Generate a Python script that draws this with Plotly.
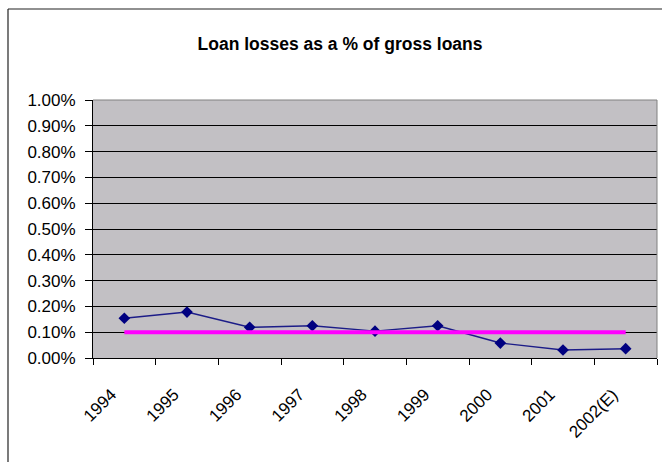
import plotly.graph_objects as go

# Chart data
years = ["1994", "1995", "1996", "1997", "1998", "1999", "2000", "2001", "2002(E)"]
loan_loss_pct = [0.00154, 0.00178, 0.00119, 0.00125, 0.00104, 0.00125, 0.00058, 0.00031, 0.00036]
benchmark_pct = [0.0010] * len(years)
y_ticks = [0.000, 0.001, 0.002, 0.003, 0.004, 0.005, 0.006, 0.007, 0.008, 0.009, 0.010]

FONT = "Arial, 'Liberation Sans', sans-serif"

fig = go.Figure()

fig.add_trace(go.Scatter(
    x=years, y=loan_loss_pct, mode="lines+markers",
    line=dict(color="#1c1c88", width=1.4),
    marker=dict(symbol="diamond", size=9, color="#000080"),
    showlegend=False, hoverinfo="x+y",
))

fig.add_trace(go.Scatter(
    x=years, y=benchmark_pct, mode="lines",
    line=dict(color="#FF00FF", width=4),
    showlegend=False, hoverinfo="x+y",
))

W, H = 662, 462
ml, mr, mt, mb = 93, 5, 100, 104
pw, ph = W - ml - mr, H - mt - mb

# Outer chart frame (left and top edges visible in the canvas)
fx0 = (8 - ml) / pw
fy1 = (H - mb - 9) / ph
fig.add_shape(type="line", xref="paper", yref="paper", x0=fx0, x1=fx0, y0=fy1, y1=-1.0,
              line=dict(color="#222222", width=1.2))
fig.add_shape(type="line", xref="paper", yref="paper", x0=fx0, x1=1.5, y0=fy1, y1=fy1,
              line=dict(color="#222222", width=1.2))

fig.update_layout(
    width=W, height=H,
    margin=dict(l=ml, r=mr, t=mt, b=mb),
    paper_bgcolor="white",
    plot_bgcolor="#C2C0C4",
    font=dict(family=FONT, size=17, color="#000000"),
    title=dict(
        text="<b>Loan losses as a % of gross loans</b>",
        x=340 / W, xanchor="center",
        y=1 - 44 / H, yanchor="middle",
        font=dict(family=FONT, size=17.5, color="#000000"),
    ),
    xaxis=dict(
        type="category", categoryorder="array", categoryarray=years,
        range=[-0.5, len(years) - 0.5],
        tickson="boundaries", ticks="outside", ticklen=6, tickcolor="#000000",
        tickangle=-45, showgrid=False,
        showline=True, linecolor="#000000", linewidth=1,
        tickfont=dict(family=FONT, size=17),
        ticklabelstandoff=19, ticklabelshift=-13,
        zeroline=False,
    ),
    yaxis=dict(
        range=[0, 0.010], tickvals=y_ticks, tickformat=".2%",
        ticks="outside", ticklen=7, tickcolor="#000000",
        showgrid=True, gridcolor="#000000", gridwidth=1,
        showline=True, linecolor="#000000", linewidth=1,
        tickfont=dict(family=FONT, size=17),
        ticklabelstandoff=6,
        zeroline=False,
    ),
)

# Gray border on the top and right of the plot area
fig.add_shape(type="line", xref="paper", yref="paper", x0=0, x1=1, y0=1, y1=1,
              line=dict(color="#808080", width=1))
fig.add_shape(type="line", xref="paper", yref="paper", x0=1, x1=1, y0=0, y1=1,
              line=dict(color="#808080", width=1))

fig.write_html("out.html")
